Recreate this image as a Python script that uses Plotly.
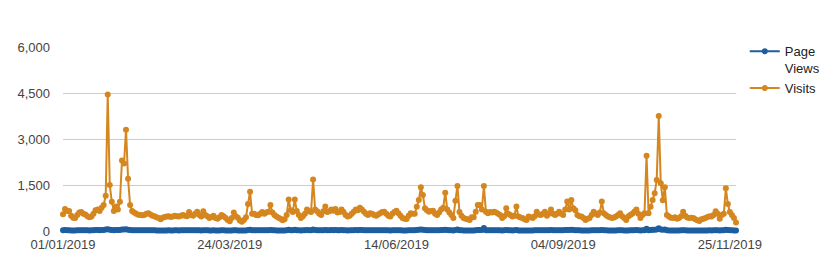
import pandas as pd
import plotly.graph_objects as go

start_date = "2019-01-01"

visits = [
    550, 720, 650, 650, 500, 430, 420, 520, 600, 620,
    560, 540, 480, 450, 470, 560, 680, 700, 650, 760,
    850, 1150, 4450, 1500, 950, 650, 800, 700, 950, 2300,
    2200, 3300, 1700, 850, 650, 600, 560, 530, 520, 510,
    520, 560, 580, 540, 500, 480, 450, 420, 380, 430,
    460, 470, 480, 460, 470, 500, 480, 470, 500, 520,
    500, 480, 620, 520, 500, 560, 630, 520, 470, 640,
    520, 480, 420, 460, 500, 420, 400, 450, 520, 480,
    420, 360, 320, 420, 600, 480, 430, 340, 300, 360,
    450, 880, 1280, 560, 560, 520, 510, 560, 620, 560,
    600, 630, 850, 600, 520, 470, 430, 400, 350, 380,
    520, 1030, 680, 620, 1030, 650, 520, 420, 480, 560,
    700, 640, 620, 1680, 700, 640, 560, 520, 640, 800,
    620, 640, 700, 660, 720, 600, 620, 700, 620, 520,
    470, 500, 560, 630, 700, 680, 760, 700, 630, 560,
    520, 580, 560, 520, 500, 540, 580, 620, 630, 560,
    500, 470, 560, 620, 660, 580, 500, 420, 400, 390,
    500, 580, 560, 560, 790, 1010, 1425, 1175, 740, 680,
    630, 650, 660, 560, 520, 600, 700, 760, 1250, 700,
    600, 520, 420, 990, 1467, 620, 500, 420, 400, 380,
    360, 450, 450, 630, 850, 850, 700, 1467, 630, 580,
    620, 600, 630, 600, 560, 520, 420, 480, 740, 560,
    520, 470, 500, 800, 470, 440, 420, 380, 360, 470,
    450, 420, 480, 630, 540, 520, 560, 630, 500, 560,
    700, 560, 520, 560, 630, 560, 520, 700, 960, 700,
    1010, 740, 680, 520, 480, 470, 420, 360, 400, 420,
    520, 630, 560, 520, 600, 960, 580, 520, 470, 450,
    420, 440, 470, 520, 580, 480, 420, 360, 470, 520,
    560, 630, 700, 560, 420, 520, 580, 2455, 580, 790,
    1010, 1230, 1660, 3750, 1555, 1000, 1430, 520, 470, 430,
    420, 450, 400, 420, 480, 630, 500, 440, 420, 430,
    420, 380, 350, 330, 380, 400, 420, 460, 480, 470,
    520, 640, 560, 400, 520, 560, 1390, 880, 620, 520,
    420, 280,
]

page_views = [
    22, 30, 28, 26, 20, 18, 19, 23, 26, 27,
    24, 23, 21, 20, 21, 24, 29, 30, 28, 32,
    36, 45, 60, 40, 34, 28, 32, 30, 34, 48,
    46, 55, 42, 34, 28, 26, 24, 23, 22, 22,
    22, 24, 25, 23, 22, 21, 20, 19, 17, 19,
    20, 20, 21, 20, 20, 22, 21, 20, 22, 22,
    22, 21, 26, 22, 22, 24, 27, 22, 20, 27,
    22, 21, 19, 20, 22, 19, 18, 20, 22, 21,
    19, 16, 15, 19, 26, 21, 19, 15, 14, 16,
    20, 35, 42, 24, 24, 22, 22, 24, 26, 24,
    26, 27, 34, 26, 22, 20, 19, 18, 16, 17,
    22, 38, 28, 26, 38, 27, 22, 19, 21, 24,
    29, 27, 26, 45, 29, 27, 24, 22, 27, 32,
    26, 27, 29, 28, 30, 26, 26, 29, 26, 22,
    20, 22, 24, 27, 29, 28, 31, 29, 27, 24,
    22, 25, 24, 22, 22, 23, 25, 26, 27, 24,
    22, 20, 24, 26, 28, 25, 22, 19, 18, 17,
    22, 25, 24, 24, 32, 38, 46, 40, 30, 28,
    27, 28, 28, 24, 22, 26, 29, 31, 42, 29,
    26, 22, 19, 36, 48, 26, 22, 19, 18, 17,
    16, 20, 20, 27, 34, 34, 29, 95, 27, 25,
    26, 26, 27, 26, 24, 22, 19, 21, 30, 24,
    22, 20, 22, 32, 20, 19, 19, 17, 16, 20,
    20, 19, 21, 27, 23, 22, 24, 27, 22, 24,
    29, 24, 22, 24, 27, 24, 22, 29, 36, 29,
    38, 30, 28, 22, 21, 20, 19, 16, 18, 19,
    22, 27, 24, 22, 26, 36, 25, 22, 20, 20,
    19, 19, 20, 22, 25, 21, 19, 16, 20, 22,
    24, 27, 29, 24, 19, 22, 25, 70, 25, 32,
    38, 44, 52, 90, 50, 38, 46, 22, 20, 19,
    19, 20, 18, 19, 21, 27, 22, 19, 19, 19,
    19, 17, 16, 15, 17, 18, 19, 20, 21, 20,
    22, 27, 24, 18, 22, 24, 44, 34, 26, 22,
    19, 14,
]

tick_dates = ["2019-01-01", "2019-03-24", "2019-06-14", "2019-09-04", "2019-11-25"]
tick_labels = ["01/01/2019", "24/03/2019", "14/06/2019", "04/09/2019", "25/11/2019"]
y_ticks = [0, 1500, 3000, 4500, 6000]
y_tick_labels = ["0", "1,500", "3,000", "4,500", "6,000"]

dates = pd.date_range(start_date, periods=len(visits), freq="D")

blue = "#1d5e9f"
orange = "#d5861f"
font_family = "Liberation Sans, Arial, sans-serif"

fig = go.Figure()
fig.add_trace(go.Scatter(
    x=dates, y=page_views, name="Page<br>Views", mode="lines+markers",
    line=dict(color=blue, width=2), marker=dict(color=blue, size=6),
    cliponaxis=False,
))
fig.add_trace(go.Scatter(
    x=dates, y=visits, name="Visits", mode="lines+markers",
    line=dict(color=orange, width=2), marker=dict(color=orange, size=6),
    cliponaxis=False,
))

fig.update_layout(
    width=825, height=269,
    margin=dict(l=63, r=89, t=47, b=38, autoexpand=False),
    paper_bgcolor="white", plot_bgcolor="white",
    font=dict(family=font_family, size=13, color="#444"),
    showlegend=True,
    legend=dict(x=1.013, xanchor="left", y=1.058, yanchor="top",
                font=dict(size=13, color="#222"), valign="top",
                itemwidth=30, tracegroupgap=0, bgcolor="rgba(0,0,0,0)"),
    xaxis=dict(
        type="date",
        range=[dates[0], dates[-1]],
        tickvals=tick_dates, ticktext=tick_labels,
        showgrid=False, zeroline=False, showline=False,
        ticks="", ticklabelstandoff=4, automargin=False,
        tickfont=dict(size=13, color="#444"),
    ),
    yaxis=dict(
        range=[0, 6000], tickvals=y_ticks, ticktext=y_tick_labels,
        showgrid=True, gridcolor="#cccccc", gridwidth=1,
        zeroline=False, showline=False, ticks="",
        ticklabelstandoff=12, automargin=False,
        tickfont=dict(size=13, color="#444"),
    ),
)

fig.write_html("out.html")
